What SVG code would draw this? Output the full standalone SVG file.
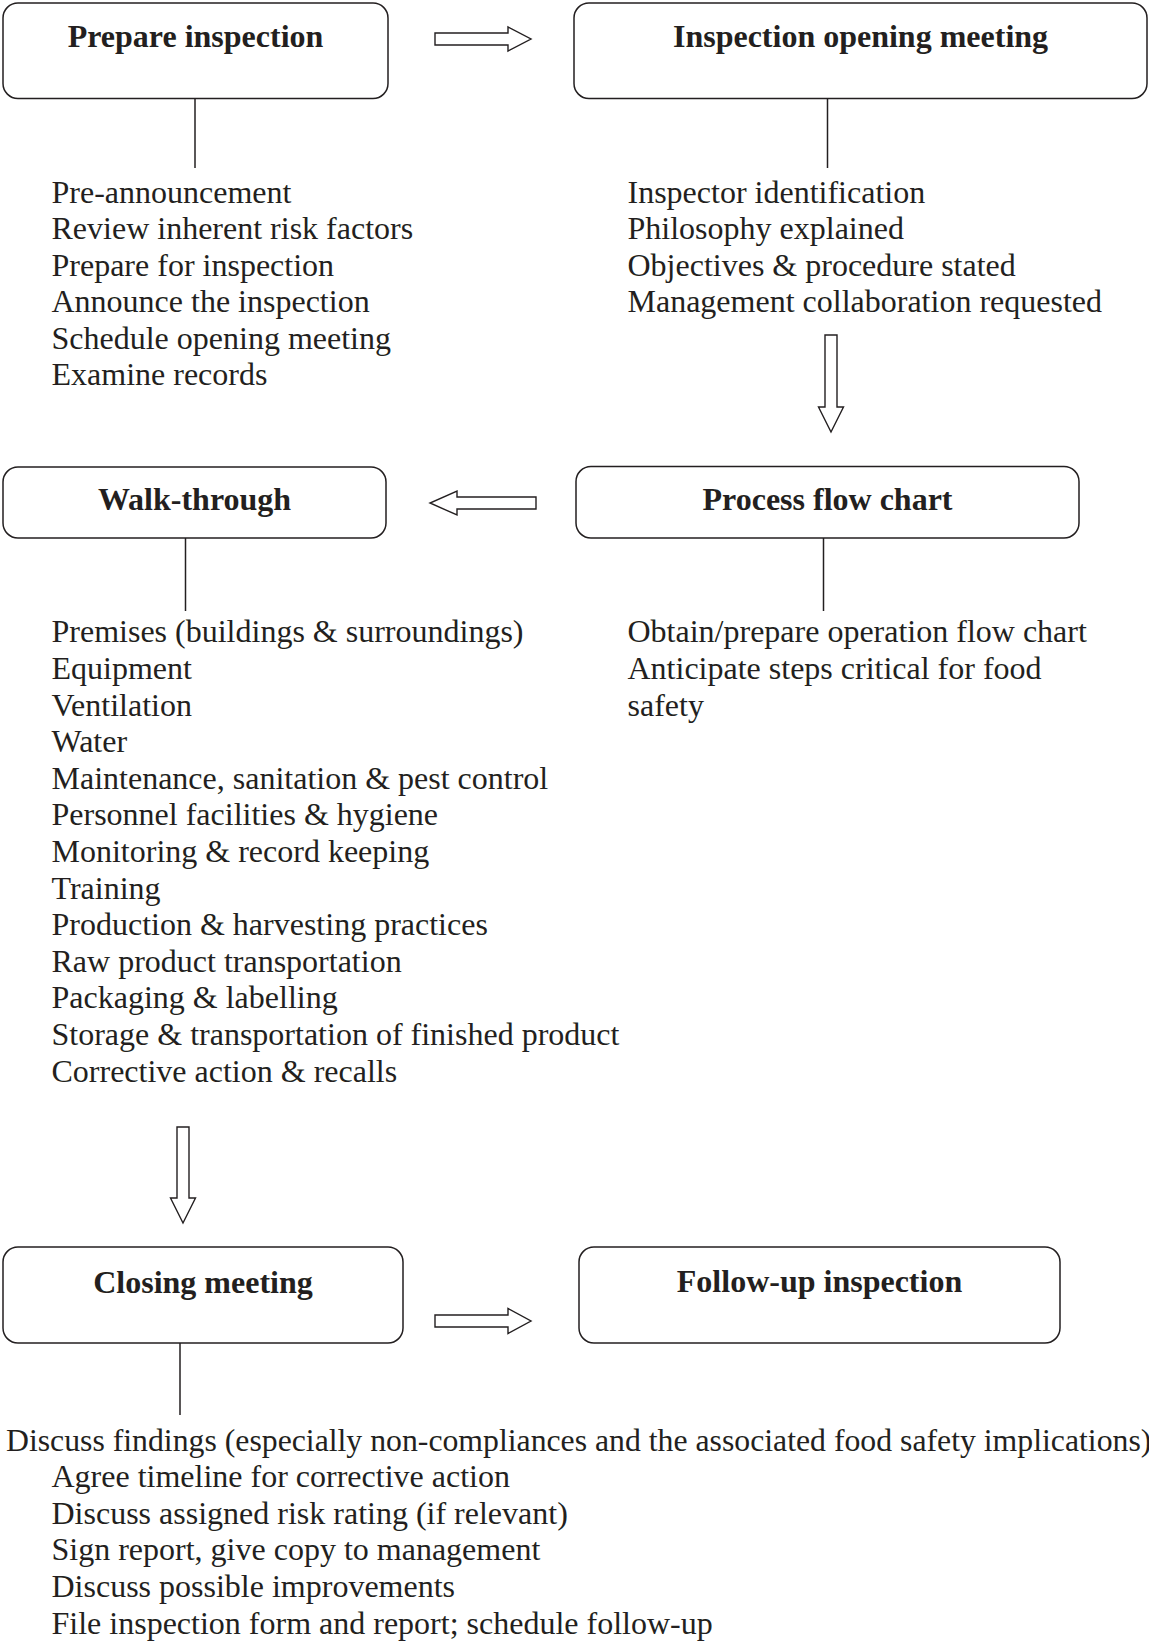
<svg xmlns="http://www.w3.org/2000/svg" width="1149" height="1643" viewBox="0 0 1149 1643">
<style>
.box{fill:#fff;stroke:#231f20;stroke-width:1.5}
.title{font-family:"Liberation Serif","Times New Roman",serif;font-weight:bold;font-size:32px;fill:#231f20;text-anchor:middle}
.item{font-family:"Liberation Serif","Times New Roman",serif;font-size:32px;fill:#231f20}
.line{stroke:#231f20;stroke-width:1.5;fill:none}
.arrow{fill:#fff;stroke:#231f20;stroke-width:1.4;stroke-linejoin:miter}
</style>
<rect width="1149" height="1643" fill="#fff"/>
<g id="connectors">
  <line class="line" x1="195" y1="98.5" x2="195" y2="168"/>
  <line class="line" x1="827.5" y1="98.5" x2="827.5" y2="168"/>
  <line class="line" x1="185.5" y1="538" x2="185.5" y2="611"/>
  <line class="line" x1="823.5" y1="538" x2="823.5" y2="611"/>
  <line class="line" x1="180" y1="1343" x2="180" y2="1415"/>
  <polygon class="arrow" points="435,33 508,33 508,27 531,39 508,51 508,45 435,45"/>
  <polygon class="arrow" points="825,335 837,335 837,407 843.5,407 831,432 818.5,407 825,407"/>
  <polygon class="arrow" points="536,497 457,497 457,491 430,503 457,515 457,509 536,509"/>
  <polygon class="arrow" points="177,1127 189,1127 189,1198 195.5,1198 183,1223 170.5,1198 177,1198"/>
  <polygon class="arrow" points="435,1315 508,1315 508,1308.5 531,1321 508,1333.5 508,1327 435,1327"/>
</g>
<g id="prepare-inspection">
  <rect class="box" x="3" y="3" width="385" height="95.5" rx="15"/>
  <text class="title" x="195.5" y="46.7">Prepare inspection</text>
  <text class="item" x="51.5" y="202.7">Pre-announcement</text>
  <text class="item" x="51.5" y="239.2">Review inherent risk factors</text>
  <text class="item" x="51.5" y="275.8">Prepare for inspection</text>
  <text class="item" x="51.5" y="312.3">Announce the inspection</text>
  <text class="item" x="51.5" y="348.9">Schedule opening meeting</text>
  <text class="item" x="51.5" y="385.4">Examine records</text>
</g>
<g id="inspection-opening-meeting">
  <rect class="box" x="574" y="3" width="573" height="95.5" rx="15"/>
  <text class="title" x="860.5" y="46.7">Inspection opening meeting</text>
  <text class="item" x="627.5" y="202.7">Inspector identification</text>
  <text class="item" x="627.5" y="239.2">Philosophy explained</text>
  <text class="item" x="627.5" y="275.8">Objectives &amp; procedure stated</text>
  <text class="item" x="627.5" y="312.3">Management collaboration requested</text>
</g>
<g id="process-flow-chart">
  <rect class="box" x="576" y="466.5" width="503" height="71.5" rx="15"/>
  <text class="title" x="827.5" y="510">Process flow chart</text>
  <text class="item" x="627.5" y="642.3">Obtain/prepare operation flow chart</text>
  <text class="item" x="627.5" y="678.9">Anticipate steps critical for food</text>
  <text class="item" x="627.5" y="715.5">safety</text>
</g>
<g id="walk-through">
  <rect class="box" x="3" y="467" width="383" height="71" rx="15"/>
  <text class="title" x="194.5" y="510">Walk-through</text>
  <text class="item" x="51.5" y="642.3">Premises (buildings &amp; surroundings)</text>
  <text class="item" x="51.5" y="678.9">Equipment</text>
  <text class="item" x="51.5" y="715.5">Ventilation</text>
  <text class="item" x="51.5" y="752.1">Water</text>
  <text class="item" x="51.5" y="788.7">Maintenance, sanitation &amp; pest control</text>
  <text class="item" x="51.5" y="825.3">Personnel facilities &amp; hygiene</text>
  <text class="item" x="51.5" y="861.9">Monitoring &amp; record keeping</text>
  <text class="item" x="51.5" y="898.5">Training</text>
  <text class="item" x="51.5" y="935.1">Production &amp; harvesting practices</text>
  <text class="item" x="51.5" y="971.7">Raw product transportation</text>
  <text class="item" x="51.5" y="1008.3">Packaging &amp; labelling</text>
  <text class="item" x="51.5" y="1044.9">Storage &amp; transportation of finished product</text>
  <text class="item" x="51.5" y="1081.5">Corrective action &amp; recalls</text>
</g>
<g id="closing-meeting">
  <rect class="box" x="3" y="1247" width="400" height="96" rx="15"/>
  <text class="title" x="203" y="1292.5">Closing meeting</text>
  <text class="item" x="6" y="1450.5" style="font-size:31.75px">Discuss findings (especially non-compliances and the associated food safety implications)</text>
  <text class="item" x="51.5" y="1487.1">Agree timeline for corrective action</text>
  <text class="item" x="51.5" y="1523.7">Discuss assigned risk rating (if relevant)</text>
  <text class="item" x="51.5" y="1560.3">Sign report, give copy to management</text>
  <text class="item" x="51.5" y="1596.9">Discuss possible improvements</text>
  <text class="item" x="51.5" y="1633.5">File inspection form and report; schedule follow-up</text>
</g>
<g id="follow-up-inspection">
  <rect class="box" x="579" y="1247" width="481" height="96" rx="15"/>
  <text class="title" x="819.5" y="1292">Follow-up inspection</text>
</g>
</svg>
